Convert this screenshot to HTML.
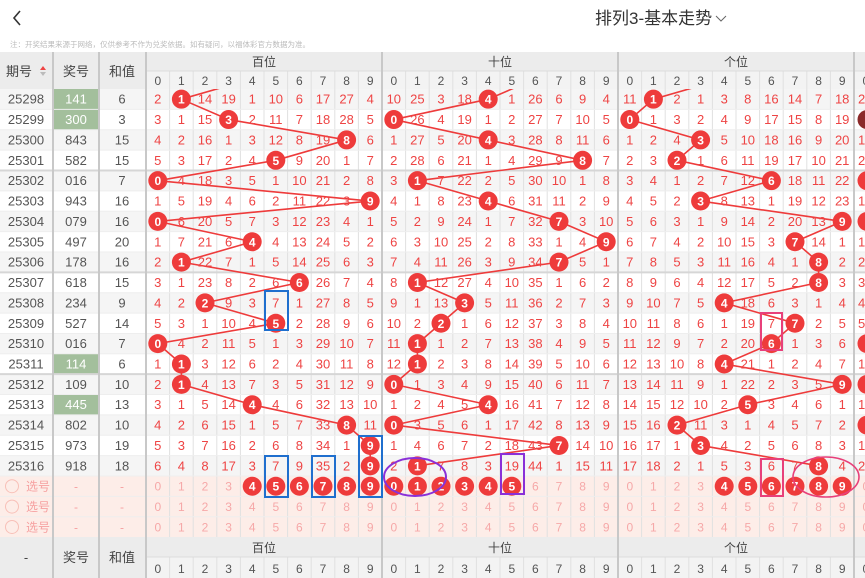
<!DOCTYPE html>
<html><head><meta charset="utf-8">
<style>
html,body{margin:0;padding:0;background:#fff;width:865px;height:578px;overflow:hidden}
svg{display:block;font-family:"Liberation Sans","Noto Sans CJK SC",sans-serif}
</style></head>
<body>
<svg id="s" width="865" height="578" xmlns="http://www.w3.org/2000/svg"></svg>
<script>
const S=document.getElementById('s');let h='';
const RH=20.37,T0=89,CW=23.6;
const cx=(s,d)=>146+s*236+CW*(d+0.5);
const rt=i=>T0+i*RH, rc=i=>T0+i*RH+RH/2;
const per=[];for(let i=0;i<19;i++)per.push(25298+i);
const dr=["141","300","843","582","016","943","079","497","178","618","234","527","016","114","109","445","802","973","918"];
const sums=[6,3,15,15,7,16,16,20,16,15,9,14,7,6,10,13,10,19,18];
const green=[0,1,13,15];
const init=[[2,0,14,19,1,10,6,17,27,4],[10,25,3,18,0,1,26,6,9,4],[11,0,2,1,3,8,16,14,7,18]];
function t(x,y,s,c,sz,a,w){h+=`<text x="${x}" y="${y}" fill="${c}" font-size="${sz}" text-anchor="${a||'middle'}"${w?' font-weight="bold"':''}>${s}</text>`;}
function r(x,y,w,hh,f){h+=`<rect x="${x}" y="${y}" width="${w}" height="${hh}" fill="${f}"/>`;}
function l(x1,y1,x2,y2,c,w){h+=`<line x1="${x1}" y1="${y1}" x2="${x2}" y2="${y2}" stroke="${c}" stroke-width="${w}"/>`;}
h+=`<polyline points="20,11 14,18 20,25" fill="none" stroke="#333" stroke-width="1.6"/>`;
t(595,24,"排列3-基本走势","#333",17,"start");
h+=`<polyline points="716,16 721,21 726,16" fill="none" stroke="#666" stroke-width="1"/>`;
t(10,47,"注：开奖结果来源于网络，仅供参考不作为兑奖依据。如有疑问，以福体彩官方数据为准。","#bbb",7.5,"start");
r(0,52,865,37,"#ececec");r(146,71,719,18,"#f3f3f3");
for(let i=0;i<19;i++)r(0,rt(i),865,RH,i%2==0?"#f5f5f5":"#fff");
for(let i=19;i<22;i++)r(0,rt(i),865,RH,"#fdede8");
r(0,537,865,41,"#ececec");r(146,557,719,21,"#f3f3f3");
for(const i of green)r(54,rt(i),45,RH,"#a3bf9c");
for(let s=0;s<4;s++)for(let d=1;d<10;d++){const x=146+s*236+CW*d;l(x,71,x,537,"#e0e0e0",1);l(x,557,x,578,"#e0e0e0",1);}
l(146,71,865,71,"#dcdcdc",1);l(146,557,865,557,"#dcdcdc",1);
for(let i=1;i<22;i++){const y=rt(i);l(0,y,865,y,([4,9,14].includes(i))?"#d6d6d6":"#eeeeee",[4,9,14].includes(i)?2:1);}
for(const x of [53,99,146,382,618,854]){l(x,52,x,578,"#c8c8c8",2);}
t(19,76,"期号","#444",13);h+=`<polygon points="40,70 43,66 46,70" fill="#e44"/><polygon points="40,72 43,76 46,72" fill="#bbb"/>`;
t(76,76,"奖号","#444",13);t(122,76,"和值","#444",13);
const nm=["百位","十位","个位"];
for(let s=0;s<3;s++){t(146+s*236+118,66,nm[s],"#444",12);t(146+s*236+118,552,nm[s],"#444",12);}
for(let s=0;s<4;s++)for(let d=0;d<10;d++){t(cx(s,d),85,d,"#555",12);t(cx(s,d),573,d,"#555",12);}
t(26,562,"-","#444",13);t(76,562,"奖号","#444",13);t(122,562,"和值","#444",13);
for(let i=0;i<19;i++){const y=rc(i)+4.5;t(26,y,per[i],"#555",13);t(76,y,dr[i],green.includes(i)?"#fff":"#555",13);t(122,y,sums[i],"#555",13);}
const prev=[4,6,4];
for(let s=0;s<3;s++){
  let px=cx(s,prev[s]),py=rc(-1);
  h+=`<clipPath id="c${s}"><rect x="146" y="89" width="719" height="400"/></clipPath>`;
  let pts=[[px,py]];
  for(let i=0;i<19;i++)pts.push([cx(s,+dr[i][s]),rc(i)]);
  h+=`<polyline clip-path="url(#c${s})" points="${pts.map(p=>p.join(',')).join(' ')}" fill="none" stroke="#ee3b3b" stroke-width="1.6"/>`;
}
for(let s=0;s<3;s++){
  let v=init[s].slice();
  for(let i=0;i<19;i++){
    const dg=+dr[i][s];
    if(i>0)for(let d=0;d<10;d++)v[d]=(d==dg)?0:v[d]+1;
    for(let d=0;d<10;d++){
      if(d==dg){h+=`<circle cx="${cx(s,d)}" cy="${rc(i)}" r="9.5" fill="#ee3b3b"/>`;t(cx(s,d),rc(i)+4.5,d,"#fff",12,null,1);}
      else t(cx(s,d),rc(i)+4.5,v[d],"#ee4444",13);
    }
  }
}
const p4={0:"2",2:"1",3:"2",5:"1",7:"1",8:"2",9:"3",10:"4",11:"5",13:"1",15:"1",17:"1",18:"2"};
for(let i=0;i<19;i++){
  if(p4[i])t(858,rc(i)+4.5,p4[i],"#ee4444",13,"start");
  else{h+=`<circle cx="867" cy="${rc(i)}" r="9.5" fill="${i==1?'#8b2a2a':'#ee3b3b'}"/>`;}
}
const sel=[[4,5,6,7,8,9],[0,1,2,3,4,5],[4,5,6,7,8,9]];
for(let k=0;k<3;k++){const i=19+k,y=rc(i);
  h+=`<circle cx="12" cy="${y}" r="6.5" fill="none" stroke="#f8c0b8" stroke-width="1"/>`;
  t(26,y+4.5,"选号","#f6a0a0",12,"start");t(76,y+4.5,"-","#f6a0a0",12);t(122,y+4.5,"-","#f6a0a0",12);
  for(let s=0;s<4;s++)for(let d=0;d<10;d++){
    if(s<3&&k==0&&sel[s].includes(d)){h+=`<circle cx="${cx(s,d)}" cy="${y}" r="9.5" fill="#ee3b3b"/>`;t(cx(s,d),y+4.5,d,"#fff",12,null,1);}
    else t(cx(s,d),y+4.5,d,"#f6a8a8",12);
  }
}
const rb=(x,y,w,hh,c)=>h+=`<rect x="${x}" y="${y}" width="${w}" height="${hh}" fill="none" stroke="${c}" stroke-width="2"/>`;
rb(265,291,23,39,"#1f6fce");rb(265,456,23,41,"#1f6fce");rb(312,456,23,41,"#1f6fce");rb(359,436,23,61,"#1f6fce");
rb(501,454,23,40,"#8a30d8");
rb(761,313,21,37,"#e8407a");rb(761,459,22,37,"#e8407a");
h+=`<ellipse cx="415" cy="477" rx="31" ry="19" fill="none" stroke="#8a30d8" stroke-width="2"/>`;
h+=`<ellipse cx="826" cy="477" rx="33" ry="20" fill="none" stroke="#e8407a" stroke-width="1.6"/>`;
S.innerHTML=h;
</script>
</body></html>
